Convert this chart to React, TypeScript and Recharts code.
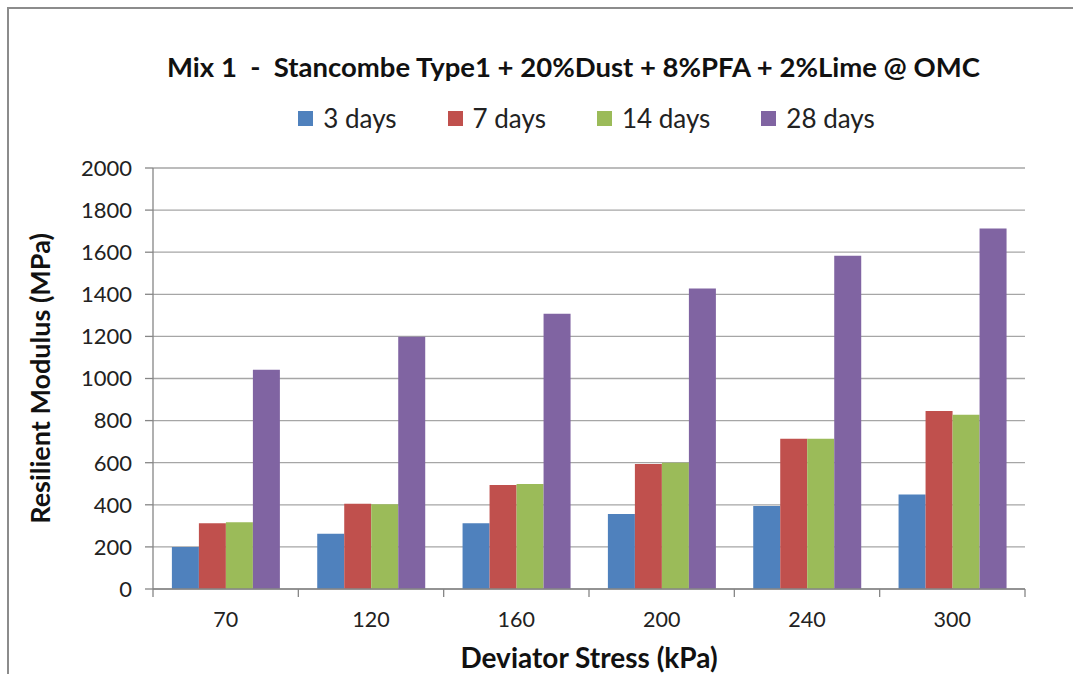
import React from 'react';
import { BarChart, Bar, XAxis, YAxis, CartesianGrid, Legend } from 'recharts';

const stresses = ['70', '120', '160', '200', '240', '300'];
const days3 = [200, 263, 312, 356, 394, 449];
const days7 = [312, 405, 494, 594, 714, 846];
const days14 = [317, 403, 499, 600, 714, 828];
const days28 = [1042, 1198, 1308, 1428, 1583, 1713];
const yTicks = [0, 200, 400, 600, 800, 1000, 1200, 1400, 1600, 1800, 2000];

const seriesInfo = [
  { key: 'd3', name: '3 days', color: '#4F81BD' },
  { key: 'd7', name: '7 days', color: '#C0504D' },
  { key: 'd14', name: '14 days', color: '#9BBB59' },
  { key: 'd28', name: '28 days', color: '#8064A2' }
];

const data = stresses.map((s, i) => ({
  stress: s,
  d3: days3[i],
  d7: days7[i],
  d14: days14[i],
  d28: days28[i]
}));

const FONT = 'Lato, "Noto Sans", sans-serif';
const W = 1073;
const H = 674;
const PLOT_LEFT = 153;
const PLOT_RIGHT = 1025;
const BAND = (PLOT_RIGHT - PLOT_LEFT) / stresses.length;

const XTick = (props: any) => {
  const { x, y, payload, index } = props;
  const half = BAND / 2;
  return (
    <g>
      <line x1={x - half} y1={y - 8} x2={x - half} y2={y} stroke="#868686" strokeWidth={1.3} />
      {index === stresses.length - 1 && (
        <line x1={x + half} y1={y - 8} x2={x + half} y2={y} stroke="#868686" strokeWidth={1.3} />
      )}
      <text x={x} y={y + 30} textAnchor="middle" fill="#222" fontSize={21.5} fontFamily={FONT}>
        {payload.value}
      </text>
    </g>
  );
};

const LegendContent = () => (
  <div
    style={{
      display: 'flex',
      justifyContent: 'center',
      alignItems: 'center',
      gap: 51,
      height: 32,
      paddingLeft: 100,
      fontFamily: FONT,
      fontSize: 26,
      color: '#222'
    }}
  >
    {seriesInfo.map(s => (
      <div key={s.key} style={{ display: 'flex', alignItems: 'center' }}>
        <span style={{ width: 15, height: 15, background: s.color, display: 'inline-block', marginRight: 10 }} />
        <span>{s.name}</span>
      </div>
    ))}
  </div>
);

export default function App() {
  return (
    <div style={{ position: 'absolute', left: 0, top: 0, width: W, height: H, overflow: 'hidden', background: '#fff' }}>
      <div
        style={{
          position: 'absolute',
          left: 7,
          top: 7,
          width: W + 20,
          height: H + 20,
          border: '2px solid #8c8c8c'
        }}
      />
      <div
        style={{
          position: 'absolute',
          left: 0,
          top: 50,
          width: W,
          paddingLeft: 37,
          textAlign: 'center',
          fontFamily: FONT,
          fontWeight: 700,
          fontSize: 27.5,
          color: '#111',
          whiteSpace: 'pre'
        }}
      >
        {'Mix 1  -  Stancombe Type1 + 20%Dust + 8%PFA + 2%Lime @ OMC'}
      </div>
      <div style={{ position: 'absolute', left: 0, top: 0 }}>
        <BarChart
          width={W}
          height={H}
          data={data}
          margin={{ top: 136, right: W - PLOT_RIGHT, bottom: 25, left: 0 }}
          barCategoryGap="13%"
          barGap={0}
        >
          <CartesianGrid vertical={false} stroke="#a6a6a6" strokeWidth={1.3} />
          <XAxis
            dataKey="stress"
            height={60}
            axisLine={{ stroke: '#868686', strokeWidth: 1.3 }}
            tickLine={false}
            tick={<XTick />}
            interval={0}
            label={{
              value: 'Deviator Stress (kPa)',
              position: 'insideBottom',
              offset: -19,
              fill: '#111',
              fontSize: 28,
              fontWeight: 700,
              fontFamily: FONT
            }}
          />
          <YAxis
            width={PLOT_LEFT}
            domain={[0, 2000]}
            ticks={yTicks}
            interval={0}
            axisLine={{ stroke: '#868686', strokeWidth: 1.3 }}
            tickLine={{ stroke: '#868686', strokeWidth: 1.3 }}
            tickSize={8}
            tickMargin={13}
            tick={{ fill: '#222', fontSize: 22, fontFamily: FONT }}
            label={{
              value: 'Resilient Modulus (MPa)',
              angle: -90,
              position: 'insideLeft',
              offset: 40,
              fill: '#111',
              fontSize: 27,
              fontWeight: 700,
              fontFamily: FONT,
              style: { textAnchor: 'middle' }
            }}
          />
          <Legend
            verticalAlign="top"
            content={<LegendContent />}
            wrapperStyle={{ top: 102, left: 0, width: W }}
          />
          {seriesInfo.map(s => (
            <Bar key={s.key} dataKey={s.key} name={s.name} fill={s.color} isAnimationActive={false} />
          ))}
        </BarChart>
      </div>
    </div>
  );
}
